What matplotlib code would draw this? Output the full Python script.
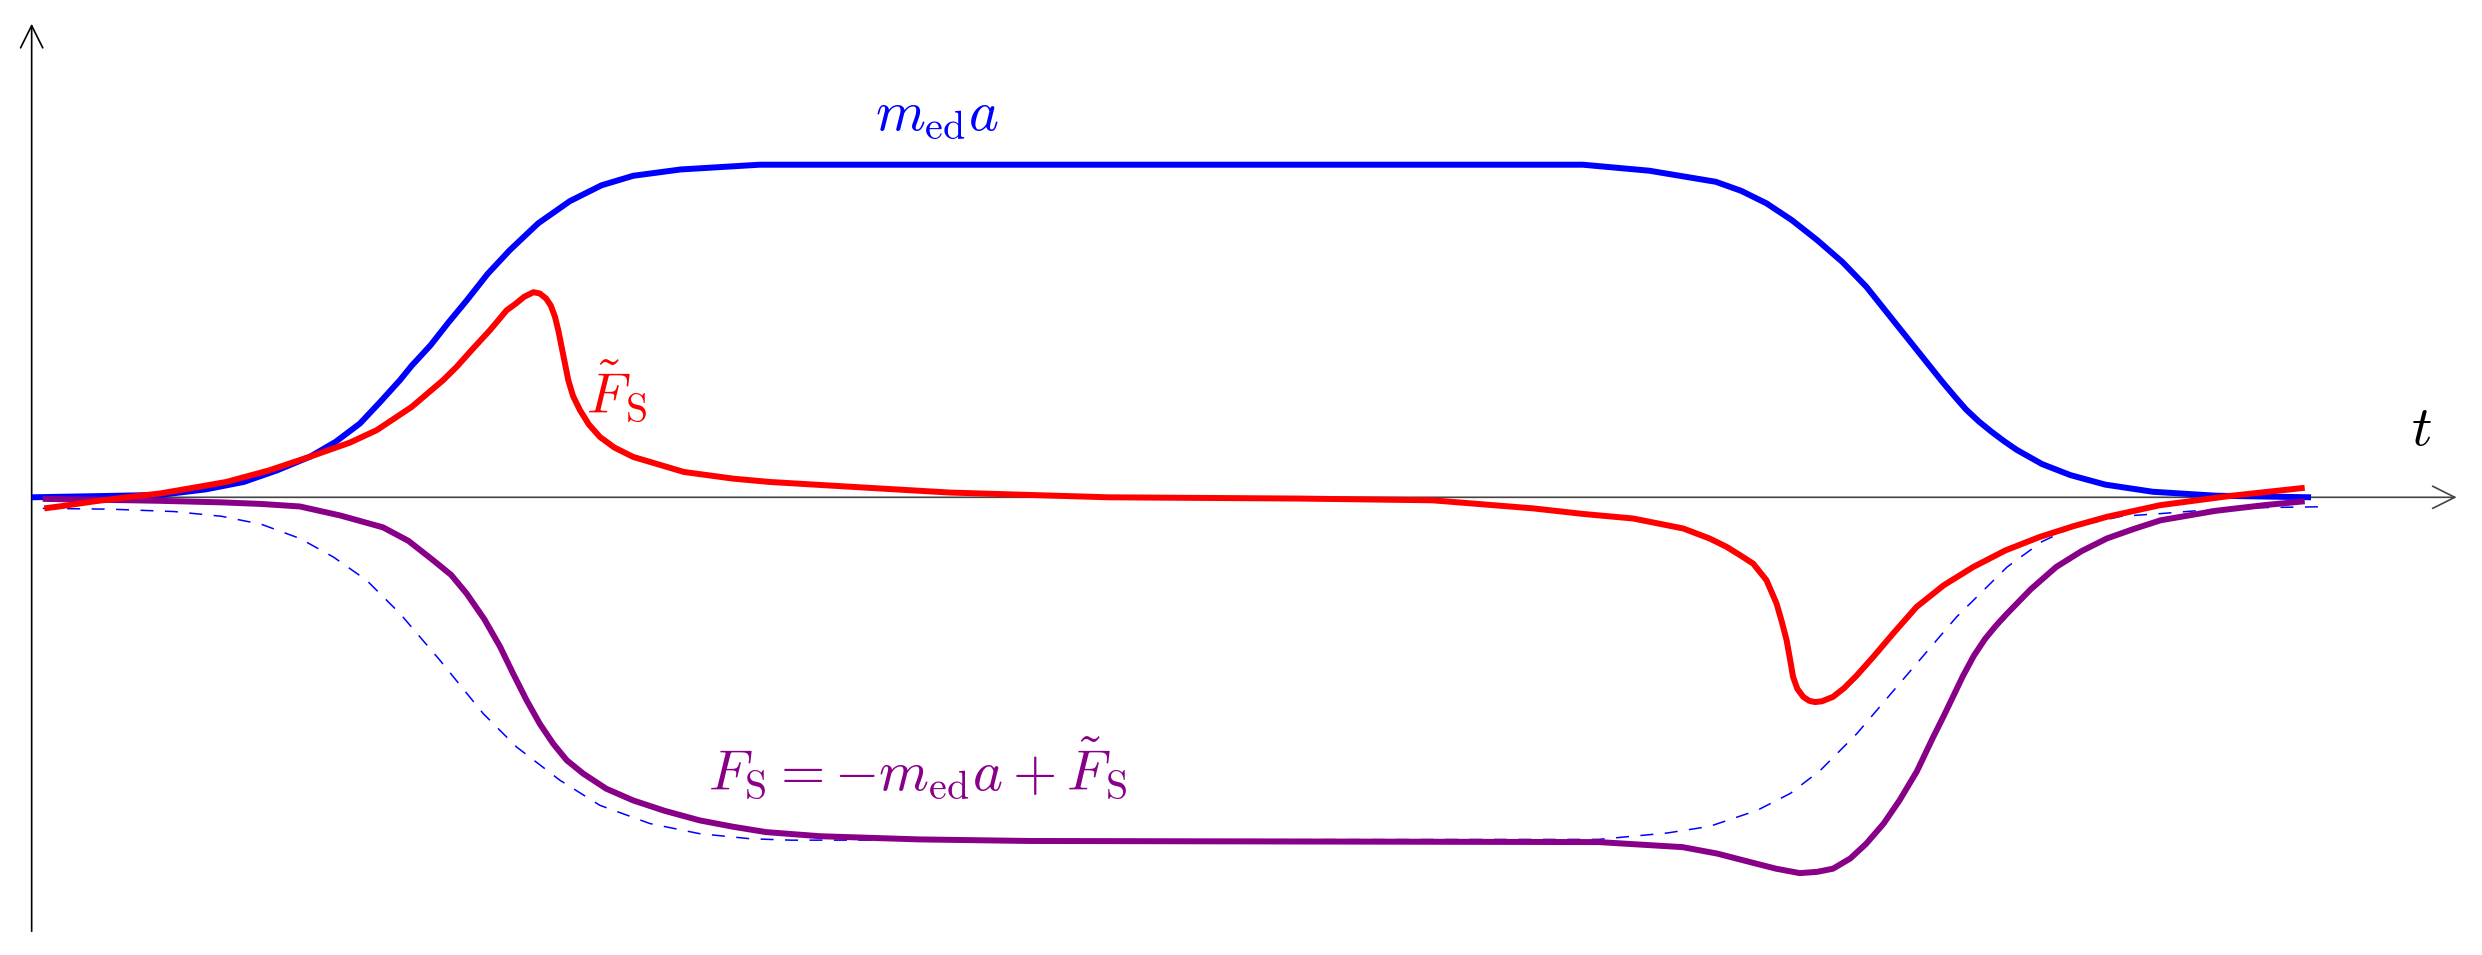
import numpy as np
import matplotlib
matplotlib.use("Agg")
import matplotlib.pyplot as plt

plt.rcParams['mathtext.fontset'] = 'cm'

# ---- data (x: time reading, y: force reading; converted below) ----
blue_x = [20, 60, 101, 130, 154, 175, 196, 212, 227.4, 240, 252.7, 260, 272, 283, 295, 308, 322, 340, 360,
          380, 400, 430, 480, 1000, 1042, 1084, 1100, 1116, 1132, 1148, 1164, 1179, 1195, 1211, 1227,
          1235, 1242, 1250, 1258, 1266, 1274, 1290, 1308, 1330, 1360, 1400, 1460]
blue_y = [314, 313.3, 312.5, 309, 304.3, 297, 288.3, 279, 267.4, 254, 240, 231, 218, 204, 189.5, 173,
          158, 141, 127, 117, 111, 107, 104, 104, 107.8, 114.8, 120.5, 128.4, 139, 151.6, 165.5, 181,
          201, 221, 241, 250.5, 258.5, 266, 272.5, 278.5, 284, 293, 300, 306, 310.5, 313, 314]

red_x = [28, 38, 60, 80, 101, 122, 143, 170, 196, 221, 238, 260, 280, 288.5, 298, 309.5, 315, 320, 326,
         331, 337, 341, 345, 348, 350.6, 352.8, 354.8, 357, 359, 362, 366.4, 372, 379, 388, 400, 432, 463,
         486, 540, 600, 700, 821, 905, 968.6, 1000, 1031.8, 1063.4, 1080, 1090.8, 1100, 1107.6, 1116,
         1122.3, 1125.5, 1128.7, 1130.8, 1132.8, 1135.5, 1139.2, 1143, 1146.6, 1151, 1158, 1165, 1173,
         1183.4, 1196, 1210.8, 1228, 1246.6, 1267, 1288.7, 1310, 1330.8, 1364.5, 1410, 1456]
red_y = [321, 319.7, 316.5, 314, 311.6, 308, 304.3, 297, 288.3, 279.5, 271.6, 257, 240, 231.6, 221,
         208.5, 202, 196, 191.6, 187.5, 184.5, 185.3, 188.5, 193, 200, 209, 219, 230, 240, 250, 259,
         268, 275.9, 282.5, 288.5, 298, 302.2, 304.3, 307.5, 311, 314, 314.8, 315.9, 321, 324.5, 327.4,
         333.7, 340, 345.3, 351, 355.9, 366.4, 381, 392, 404.3, 416, 427.5, 435, 440, 442.5, 443.3,
         442.8, 440, 434.5, 426.5, 414.8, 400, 383.2, 369.5, 358, 347.5, 339, 332.2, 326.4, 319, 313, 308]

purple_x = [27, 60, 100, 140, 165, 189.5, 215, 242, 258, 273.7, 285, 294.8, 306, 316, 324, 332.7, 341,
            349.5, 358, 368.5, 383, 400, 420, 442, 463, 484, 518, 580, 650, 1010, 1063, 1085, 1105.5,
            1122, 1137, 1148, 1158, 1169, 1179, 1190, 1200, 1211, 1221, 1228, 1234, 1240, 1247, 1254,
            1261, 1268, 1283, 1299, 1315, 1331, 1348, 1365, 1400, 1430, 1456]
purple_y = [315, 315.5, 316.2, 317.2, 318.2, 319.8, 325.5, 333, 341.5, 353.8, 363, 374.8, 391, 408.5,
            425, 442.2, 457, 469.6, 480, 488.5, 498, 505.4, 512, 518, 522, 525.4, 528, 530, 531, 531.7,
            534.9, 539, 544.3, 548.5, 551.3, 550.5, 548.5, 542, 532.7, 520, 505.4, 487, 466, 452, 439.5,
            427, 414, 403.5, 395, 387.4, 372, 358, 348, 340, 334, 328.5, 322.5, 319, 316.5]

dash_x = [27, 70, 110, 140, 165, 189.5, 210.6, 231.6, 252.7, 278, 305.3, 326.4, 353.8, 379, 410.6, 442,
          474, 500, 1010, 1053, 1080, 1110, 1131, 1150, 1173, 1204.5, 1236, 1268, 1290, 1310, 1340, 1365,
          1400, 1430, 1465]
dash_y = [321, 321.5, 323, 326, 331, 340, 351.7, 366.4, 387.4, 417, 450.6, 471.7, 492.7, 508.5, 520,
          526.4, 529.6, 530.5, 530, 526, 521.8, 511.7, 501, 486.4, 463.3, 426.4, 389.6, 358, 342, 332.7,
          326, 324.3, 321.5, 320.5, 320]

# reading units -> chart units (t: time, v: force)
def tt(xs):
    return (np.asarray(xs, float) - 20) / 100.0

def vv(ys):
    return (314 - np.asarray(ys, float)) / 100.0

blue_t, blue_v = tt(blue_x), vv(blue_y)
red_t, red_v = tt(red_x), vv(red_y)
purple_t, purple_v = tt(purple_x), vv(purple_y)
dash_t, dash_v = tt(dash_x), vv(dash_y)

fig = plt.figure(figsize=(24.82, 9.55), dpi=100)
ax = fig.add_axes([0, 0, 1, 1])
ax.set_xlim(-0.20, 15.48)
ax.set_ylim(-2.89, 3.14)
ax.axis('off')

# axes arrows
ax.annotate('', xy=(15.32, 0), xytext=(0, 0),
            arrowprops=dict(arrowstyle='->', lw=1.2, color='#444444', mutation_scale=40,
                            shrinkA=0, shrinkB=0))
ax.annotate('', xy=(0, 2.99), xytext=(0, -2.74),
            arrowprops=dict(arrowstyle='->', lw=1.2, color='black', mutation_scale=40,
                            shrinkA=0, shrinkB=0))

lw = 4.3
ax.plot(dash_t, dash_v, color='blue', lw=1.1, ls=(0, (8.5, 7.5)), zorder=2)
ax.plot(blue_t, blue_v, color='blue', lw=lw, zorder=3, solid_capstyle='butt', solid_joinstyle='round')
ax.plot(purple_t, purple_v, color='#880088', lw=lw, zorder=4, solid_capstyle='butt',
        solid_joinstyle='round')
ax.plot(red_t, red_v, color='red', lw=lw, zorder=5, solid_capstyle='butt', solid_joinstyle='round')

fs = 41
ax.text(5.72, 2.42, r'$m_{\mathrm{ed}}a$', color='blue', fontsize=fs, ha='center', va='center')
ax.text(3.5, 0.66, r'$\tilde{F}_{\mathrm{S}}$', color='red', fontsize=fs, ha='left', va='center')
ax.text(4.27, -1.72, r'$F_{\mathrm{S}}=-m_{\mathrm{ed}}a+\tilde{F}_{\mathrm{S}}$', color='#880088',
        fontsize=fs, ha='left', va='center')
ax.text(15.1, 0.43, r'$t$', color='black', fontsize=fs, ha='center', va='center')

fig.savefig('out.png', dpi=100)
